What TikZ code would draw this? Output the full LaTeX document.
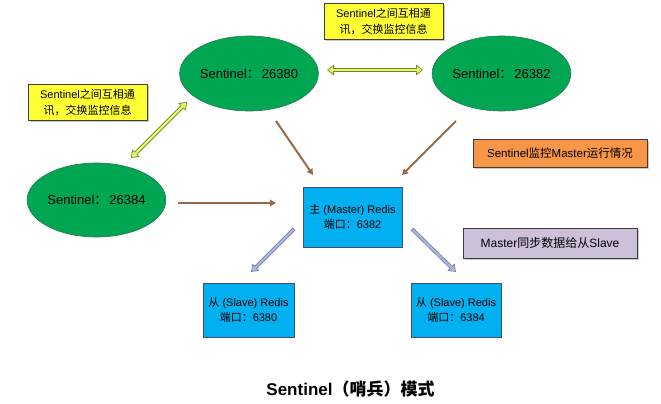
\documentclass[tikz,border=0pt]{standalone}
\usepackage{fontspec}
\setmainfont{Liberation Sans}
\newfontfamily\cjk{Noto Sans CJK SC}
\usetikzlibrary{arrows.meta,shapes.geometric,shadows}
\definecolor{sentgreen}{RGB}{0,166,81}
\definecolor{sentline}{RGB}{40,120,85}
\definecolor{redisblue}{RGB}{0,176,240}
\definecolor{redisline}{RGB}{60,80,120}
\definecolor{noteyellow}{RGB}{255,255,51}
\definecolor{noteorange}{RGB}{247,150,70}
\definecolor{notepurple}{RGB}{204,192,218}
\definecolor{noteline}{RGB}{60,60,60}
\definecolor{brownarrow}{RGB}{155,105,70}
\definecolor{lavfill}{RGB}{175,183,218}
\definecolor{lavline}{RGB}{115,125,165}
\definecolor{yfill}{RGB}{232,245,110}
\definecolor{yline}{RGB}{110,135,35}
\begin{document}
\begin{tikzpicture}[x=1pt,y=-1pt,
  sent/.style={ellipse,fill=sentgreen,draw=sentline,line width=0.6pt,inner sep=0pt,
    minimum width=127pt,minimum height=75pt,font=\fontsize{13}{15}\selectfont},
  redis/.style={rectangle,fill=redisblue,draw=redisline,line width=0.6pt,inner sep=0pt,
    align=center,font=\fontsize{11}{15}\selectfont},
  note/.style={rectangle,draw=noteline,line width=0.7pt,inner sep=0pt,align=center,
    drop shadow={shadow xshift=2pt,shadow yshift=-2pt,opacity=0.35,fill=black!60}},
  brownarr/.style={draw=brownarrow,line width=2pt,-{Triangle[length=6pt,width=6.5pt]}},
  lavouter/.style={draw=lavline,line width=3.6pt,-{Triangle[length=7pt,width=9.5pt]}},
  lavinner/.style={draw=lavfill,line width=2pt,-{Triangle[length=5pt,width=6.5pt]},
    shorten >=1.1pt,shorten <=0.8pt},
  youter/.style={draw=yline,line width=4.2pt,{Triangle[length=7pt,width=10.5pt]}-{Triangle[length=7pt,width=10.5pt]}},
  yinner/.style={draw=yfill,line width=2.2pt,{Triangle[length=5pt,width=7pt]}-{Triangle[length=5pt,width=7pt]},
    shorten >=1.2pt,shorten <=1.2pt}
]
\useasboundingbox (0,0) rectangle (661,404);
\fill[white] (0,0) rectangle (661,404);

% sentinels
\node[sent] (s1) at (249,73.5) {Sentinel{\cjk ：}\hspace{2pt}26380};
\node[sent] (s2) at (501.5,73.5) {Sentinel{\cjk ：}\hspace{2pt}26382};
\node[sent,minimum width=129pt,minimum height=74pt] (s3) at (96.5,200) {Sentinel{\cjk ：}\hspace{2pt}26384};

% redis
\node[redis,minimum width=99pt,minimum height=60pt] (m) at (352.5,217) {{\cjk 主} (Master) Redis\\{\cjk 端口：}6382};
\node[redis,minimum width=91pt,minimum height=54pt] (r1) at (248.5,310) {{\cjk 从} (Slave) Redis\\{\cjk 端口：}6380};
\node[redis,minimum width=90pt,minimum height=54pt] (r2) at (456,310) {{\cjk 从} (Slave) Redis\\{\cjk 端口：}6384};

% notes
\node[note,fill=noteyellow,minimum width=119pt,minimum height=36pt,font=\fontsize{11}{16}\selectfont] (n1) at (383.5,21)
  {Sentinel{\cjk 之间互相通}\\{\cjk 讯，交换监控信息}};
\node[note,fill=noteyellow,minimum width=119pt,minimum height=36pt,font=\fontsize{11}{16}\selectfont] (n2) at (87.5,102)
  {Sentinel{\cjk 之间互相通}\\{\cjk 讯，交换监控信息}};
\node[note,fill=noteorange,minimum width=174pt,minimum height=28pt,font=\fontsize{11.5}{14}\selectfont] (n3) at (560,153)
  {Sentinel{\cjk 监控}Master{\cjk 运行情况}};
\node[note,fill=notepurple,minimum width=174pt,minimum height=30pt,font=\fontsize{12}{14}\selectfont] (n4) at (550,243)
  {Master{\cjk 同步数据给从}Slave};

% title
\node[font=\fontsize{17}{20}\selectfont\bfseries] (title) at (350.5,389) {Sentinel{\cjk\bfseries （哨兵）模式}};

% arrow end points
\coordinate (a1s) at (276,121);  \coordinate (a1e) at (313,175);
\coordinate (a2s) at (456,121);  \coordinate (a2e) at (402,175);
\coordinate (a3s) at (178,203);  \coordinate (a3e) at (276,203);
\coordinate (b1s) at (294,229);  \coordinate (b1e) at (251,272);
\coordinate (b2s) at (412,229);  \coordinate (b2e) at (456,272);
\coordinate (y1s) at (327,70);   \coordinate (y1e) at (423,70);
\coordinate (y2s) at (187,102);  \coordinate (y2e) at (131,158);

% sentinel -> master
\draw[brownarr] (a1s) -- (a1e);
\draw[brownarr] (a2s) -- (a2e);
\draw[brownarr] (a3s) -- (a3e);

% master -> slaves
\draw[lavouter] (b1s) -- (b1e);
\draw[lavinner] (b1s) -- (b1e);
\draw[lavouter] (b2s) -- (b2e);
\draw[lavinner] (b2s) -- (b2e);

% sentinel <-> sentinel
\draw[youter] (y1s) -- (y1e);
\draw[yinner] (y1s) -- (y1e);
\draw[youter] (y2s) -- (y2e);
\draw[yinner] (y2s) -- (y2e);
\end{tikzpicture}
\end{document}
